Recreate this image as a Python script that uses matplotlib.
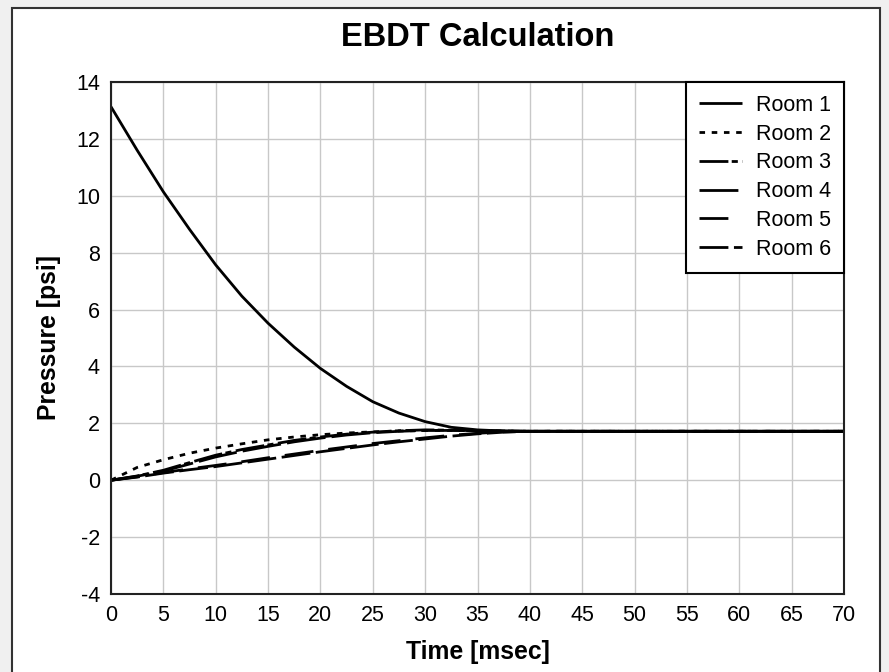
import matplotlib
matplotlib.use("Agg")
import matplotlib.pyplot as plt
from matplotlib.patches import Rectangle

plt.rcParams["font.family"] = ["Liberation Sans", "DejaVu Sans"]
plt.rcParams["axes.unicode_minus"] = False

# 时间轴 (msec)
time_ms = [0, 2.5, 5, 7.5, 10, 12.5, 15, 17.5, 20, 22.5, 25, 27.5, 30,
           32.5, 35, 37.5, 40, 45, 50, 55, 60, 65, 70]

room1 = [13.13, 11.6, 10.14, 8.82, 7.57, 6.47, 5.52, 4.68, 3.93, 3.3, 2.76, 2.36, 2.06,
         1.86, 1.77, 1.73, 1.72, 1.72, 1.72, 1.72, 1.72, 1.72, 1.72]
room2 = [0.0, 0.45, 0.72, 0.95, 1.13, 1.28, 1.42, 1.52, 1.6, 1.66, 1.7, 1.73, 1.75,
         1.75, 1.74, 1.73, 1.72, 1.72, 1.72, 1.72, 1.72, 1.72, 1.72]
room3 = [0.0, 0.15, 0.35, 0.62, 0.88, 1.08, 1.24, 1.4, 1.52, 1.62, 1.69, 1.74, 1.77,
         1.76, 1.74, 1.73, 1.72, 1.72, 1.72, 1.72, 1.72, 1.72, 1.72]
room4 = [0.0, 0.14, 0.32, 0.57, 0.82, 1.02, 1.19, 1.35, 1.48, 1.59, 1.67, 1.72, 1.75,
         1.75, 1.74, 1.73, 1.72, 1.72, 1.72, 1.72, 1.72, 1.72, 1.72]
room5 = [0.0, 0.12, 0.27, 0.4, 0.52, 0.65, 0.79, 0.92, 1.05, 1.17, 1.29, 1.39, 1.49,
         1.58, 1.65, 1.7, 1.72, 1.72, 1.72, 1.72, 1.72, 1.72, 1.72]
room6 = [0.0, 0.11, 0.25, 0.37, 0.48, 0.61, 0.74, 0.87, 1.0, 1.12, 1.24, 1.35, 1.45,
         1.55, 1.63, 1.69, 1.72, 1.72, 1.72, 1.72, 1.72, 1.72, 1.72]

rooms = ["Room 1", "Room 2", "Room 3", "Room 4", "Room 5", "Room 6"]
x_ticks = list(range(0, 75, 5))
y_ticks = list(range(-4, 16, 2))

styles = [
    (0, ()),
    (0, (2.0, 2.4)),
    (0, (10.4, 1.2, 2.2, 1.6)),
    (0, (14.0, 2.2)),
    (0, (10.4, 5.4)),
    (0, (10.4, 2.0)),
]

fig = plt.figure(figsize=(8.89, 6.72), dpi=100, facecolor="#f0f0f0")
fig.patches.append(Rectangle((12 / 889, -0.01), 868 / 889, 1 - 8 / 672 + 0.01,
                             transform=fig.transFigure, facecolor="white",
                             edgecolor="#333333", linewidth=1.5, zorder=-10))
ax = fig.add_axes([111 / 889, 1 - 594 / 672, 733 / 889, 512 / 672])

for name, vals, ls in zip(rooms, [room1, room2, room3, room4, room5, room6], styles):
    ax.plot(time_ms, vals, color="black", linewidth=2.0, linestyle=ls, label=name)

ax.set_xlim(0, 70)
ax.set_ylim(-4, 14)
ax.set_xticks(x_ticks)
ax.set_yticks(y_ticks)
ax.tick_params(length=0, labelsize=15.5, pad=8)
ax.grid(True, color="#c8c8c8", linewidth=1)
ax.set_axisbelow(True)
for sp in ax.spines.values():
    sp.set_linewidth(1.5)
    sp.set_color("#222222")

ax.set_title("EBDT Calculation", fontsize=23.5, fontweight="bold", pad=26)
ax.set_xlabel("Time [msec]", fontsize=17.8, fontweight="bold", labelpad=10)
ax.set_ylabel("Pressure [psi]", fontsize=17.8, fontweight="bold", labelpad=11)

leg = ax.legend(loc="upper right", borderaxespad=0, fontsize=15.5, handlelength=2.0,
                handletextpad=0.65, labelspacing=0.36, borderpad=0.6,
                frameon=True, fancybox=False, edgecolor="black", framealpha=1)
leg.get_frame().set_linewidth(1.5)

fig.savefig("out.png", dpi=100, facecolor=fig.get_facecolor())
